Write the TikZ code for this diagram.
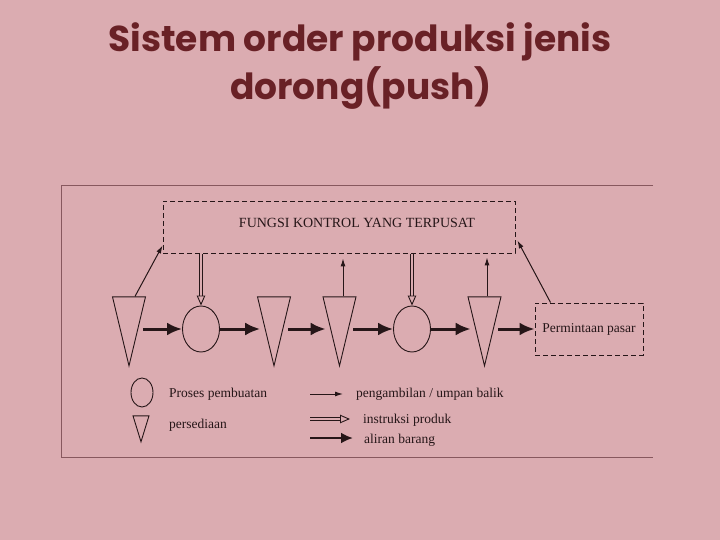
\documentclass[tikz,border=0pt]{standalone}
\usepackage{fontspec}
\setmainfont{Liberation Serif}
\newfontfamily\titlefont{Poppins}
\usetikzlibrary{shapes.geometric,arrows.meta}
\definecolor{bg}{RGB}{219,172,177}
\definecolor{ink}{RGB}{38,22,24}
\definecolor{titlec}{RGB}{105,33,38}
\definecolor{framec}{RGB}{135,88,94}
\tikzset{
  stock/.style={draw=ink, line width=0.9pt, isosceles triangle, isosceles triangle stretches,
    shape border rotate=270, inner sep=0pt, anchor=apex},
  proc/.style={draw=ink, line width=0.9pt, ellipse, inner sep=0pt},
  dbox/.style={draw=ink, line width=0.9pt, dash pattern=on 5pt off 3pt, inner sep=0pt},
  flow/.style={draw=ink, line width=3pt, -{Latex[length=15pt,width=13pt]}},
  feed/.style={draw=ink, line width=1pt, -{Latex[length=8pt,width=5pt]}},
  instr/.style={draw=ink, double=bg, double distance=2.6pt, line width=0.9pt,
    -{Triangle[open,length=10pt,width=8.5pt,fill=bg]}},
  lbl/.style={text=ink, inner sep=0pt, font=\fontsize{13.5}{16}\selectfont},
  ttl/.style={anchor=base, text=titlec, font=\titlefont\bfseries\fontsize{36}{42}\selectfont}
}
\begin{document}
\begin{tikzpicture}[x=1pt,y=-1pt]
\fill[bg] (0,0) rectangle (720,540);
\useasboundingbox (0,0) rectangle (720,540);

\node[ttl] (title1) at (360,52) {Sistem order produksi jenis};
\node[ttl] (title2) at (361,100) {dorong(push)};

\draw[framec, line width=0.8pt] (653,185) -- (61,185) -- (61,457) -- (653,457);

\node[dbox, minimum width=352pt, minimum height=52pt] (ctrl) at (339,227) {};
\node[lbl, font=\fontsize{14}{16}\selectfont, anchor=base] (ctrltxt) at (357,227) {FUNGSI KONTROL YANG TERPUSAT};

\node[stock, minimum width=33pt, minimum height=69pt] (t1) at (129,367) {};
\node[proc, minimum width=37pt, minimum height=46pt] (c1) at (201,329) {};
\node[stock, minimum width=33pt, minimum height=69pt] (t2) at (274,367) {};
\node[stock, minimum width=33pt, minimum height=69pt] (t3) at (339.5,367) {};
\node[proc, minimum width=37pt, minimum height=46pt] (c2) at (412,329) {};
\node[stock, minimum width=33pt, minimum height=69pt] (t4) at (484.5,367) {};
\node[dbox, lbl, minimum width=108pt, minimum height=52pt] (pasar) at (589,329) {Permintaan pasar};

\draw[flow] (t1.east |- c1.west) -- (c1.west);
\draw[flow] (c1.east) -- (c1.east -| t2.west);
\draw[flow] (t2.east |- c1.west) -- (c1.west -| t3.west);
\draw[flow] (t3.east |- c2.west) -- (c2.west);
\draw[flow] (c2.east) -- (c2.east -| t4.west);
\draw[flow] (t4.east |- pasar.west) -- (pasar.west);

\draw[instr] ([yshift=-1pt]c1 |- ctrl.south) -- (c1.north);
\draw[instr] ([yshift=-1pt]c2 |- ctrl.south) -- (c2.north);
\draw[feed, shorten >=5pt] ([xshift=3.5pt]t3.north) -- ([xshift=3.5pt]t3.north |- ctrl.south);
\draw[feed, shorten >=4pt] ([xshift=2.5pt]t4.north) -- ([xshift=2.5pt]t4.north |- ctrl.south);
\draw[feed] ([xshift=6pt]t1.north) -- ([yshift=8pt]ctrl.south west);
\draw[feed] ([xshift=16pt]pasar.north west) -- ([xshift=2pt,yshift=13pt]ctrl.south east);

\node[proc, minimum width=22pt, minimum height=29pt] (lc) at (142,392.5) {};
\node[stock, minimum width=16pt, minimum height=26pt] (lt) at (141,443) {};
\node[lbl, anchor=base west] (lab1) at (169,397) {Proses pembuatan};
\node[lbl, anchor=base west] (lab2) at (169,428) {persediaan};
\node[lbl, anchor=base west] (lab3) at (356,397) {pengambilan / umpan balik};
\node[lbl, anchor=base west] (lab4) at (363,423) {instruksi produk};
\node[lbl, anchor=base west] (lab5) at (364,443) {aliran barang};

\coordinate (k1) at (310,394);
\coordinate (k1e) at (343,394);
\coordinate (k2) at (310,419);
\coordinate (k2e) at (350,419);
\coordinate (k3) at (310,438);
\coordinate (k3e) at (353,438);
\draw[feed] (k1) -- (k1e);
\draw[instr] (k2) -- (k2e);
\draw[flow, line width=2.5pt, -{Latex[length=12pt,width=11pt]}] (k3) -- (k3e);
\end{tikzpicture}
\end{document}
